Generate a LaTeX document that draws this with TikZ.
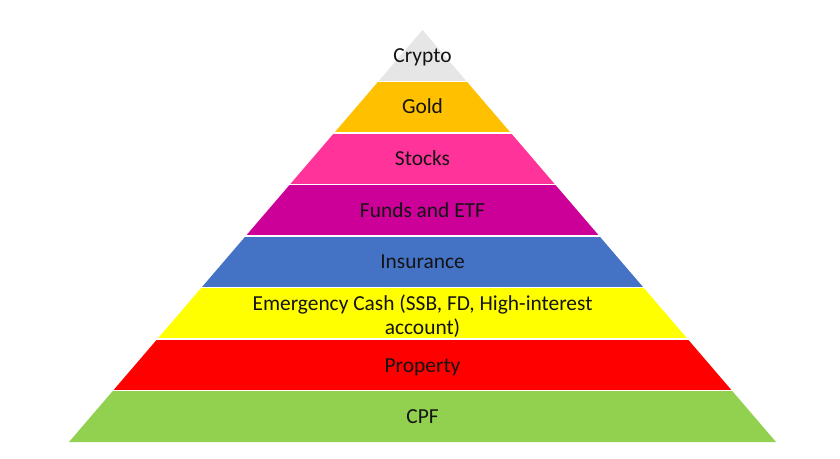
\documentclass[tikz,border=0pt]{standalone}
\usepackage{fontspec}
\setmainfont{Carlito}
\definecolor{ccrypto}{HTML}{E7E6E6}
\definecolor{cgold}{HTML}{FFC000}
\definecolor{cstocks}{HTML}{FF3399}
\definecolor{cfunds}{HTML}{CC0099}
\definecolor{cins}{HTML}{4472C4}
\definecolor{cemg}{HTML}{FFFF00}
\definecolor{cprop}{HTML}{FF0000}
\definecolor{ccpf}{HTML}{92D050}
\begin{document}
\begin{tikzpicture}[x=1pt,y=-1pt,
  lbl/.style={font=\fontsize{21.4}{24}\selectfont, text=black!92, align=center, inner sep=0pt, anchor=base},
  sep/.style={white, line width=1.8pt}]
\useasboundingbox[fill=white] (0,0) rectangle (840,458);
\def\cx{422.5}
\foreach \c [count=\i from 0] in {ccrypto,cgold,cstocks,cfunds,cins,cemg,cprop,ccpf} {
  \pgfmathsetmacro\ya{30+51.5*\i}
  \pgfmathsetmacro\yb{30+51.5*(\i+1)}
  \pgfmathsetmacro\wa{353.5*\i/8}
  \pgfmathsetmacro\wb{353.5*(\i+1)/8}
  \fill[\c] (\cx-\wa,\ya) -- (\cx+\wa,\ya) -- (\cx+\wb,\yb) -- (\cx-\wb,\yb) -- cycle;
}
\foreach \i in {1,...,7} {
  \pgfmathsetmacro\ya{30+51.5*\i}
  \pgfmathsetmacro\wa{353.5*\i/8+3}
  \draw[sep] (\cx-\wa,\ya) -- (\cx+\wa,\ya);
}
\node[lbl] (tcrypto) at (\cx,62.5) {Crypto};
\node[lbl] (tgold) at (\cx,113) {Gold};
\node[lbl] (tstocks) at (\cx,165) {Stocks};
\node[lbl] (tfunds) at (\cx,217) {Funds and ETF};
\node[lbl] (tins) at (\cx,268.5) {Insurance};
\node[lbl] (temg) at (\cx,334) {Emergency Cash (SSB, FD, High-interest\\account)};
\node[lbl] (tprop) at (\cx,372.3) {Property};
\node[lbl] (tcpf) at (\cx,423.5) {CPF};
\end{tikzpicture}
\end{document}
